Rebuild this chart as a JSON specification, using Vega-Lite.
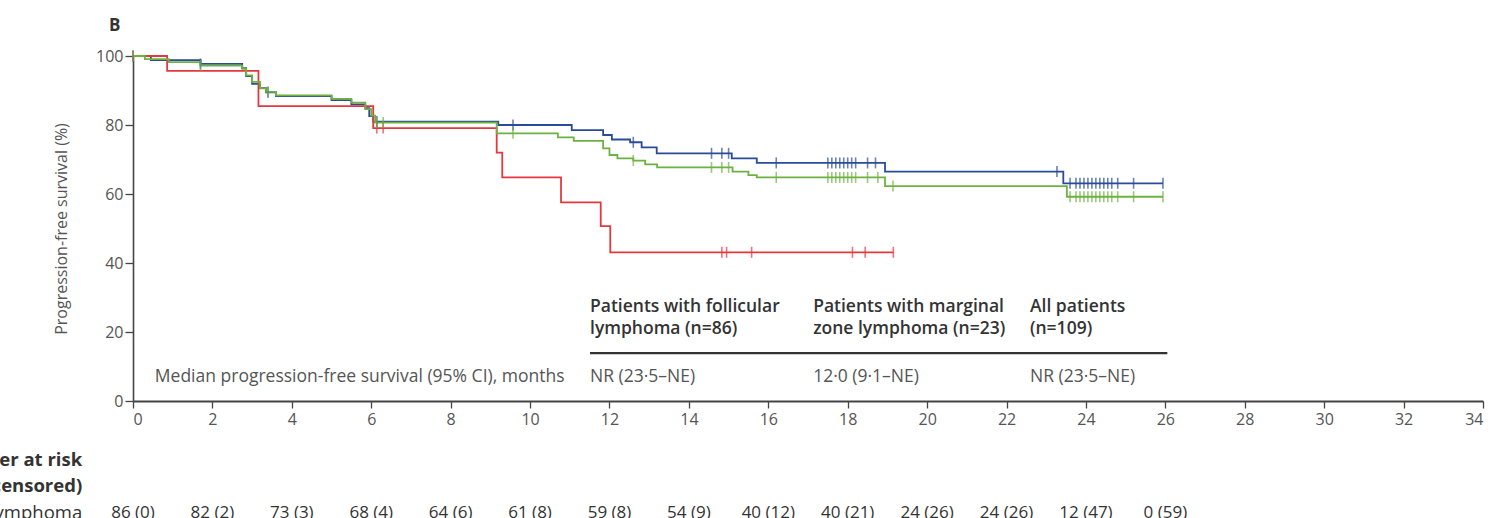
{
  "$schema": "https://vega.github.io/schema/vega-lite/v6.json",
  "width": 1350,
  "height": 345,
  "autosize": {"type": "none"},
  "padding": {"left": 133, "top": 56, "right": 18, "bottom": 117},
  "background": "white",
  "config": {
    "font": "Open Sans",
    "view": {"stroke": null},
    "axis": {"grid": false, "labelFont": "Open Sans", "titleFont": "Open Sans", "labelColor": "#555", "titleColor": "#555", "tickColor": "#444", "domainColor": "#444", "labelFontSize": 16, "titleFontSize": 16, "titleFontWeight": "normal"},
    "axisX": {"domainWidth": 2.2, "tickSize": 7, "tickWidth": 1.3, "labelPadding": 3},
    "axisY": {"domainWidth": 1.6, "tickSize": 8, "tickWidth": 1.3, "labelPadding": 2, "titlePadding": 26}
  },
  "title": {"text": "B", "anchor": "start", "frame": "group", "font": "Open Sans", "fontSize": 17, "fontWeight": "bold", "color": "#333", "dx": -24, "offset": 13},
  "datasets": {
    "km": [
      {"g": "Follicular", "t": 0, "s": 100}, {"g": "Follicular", "t": 0.45, "s": 98.8}, {"g": "Follicular", "t": 1.7, "s": 97.7}, {"g": "Follicular", "t": 2.75, "s": 96.5}, {"g": "Follicular", "t": 2.85, "s": 94.2}, {"g": "Follicular", "t": 3.0, "s": 91.9}, {"g": "Follicular", "t": 3.2, "s": 90.7}, {"g": "Follicular", "t": 3.35, "s": 89.5}, {"g": "Follicular", "t": 3.6, "s": 88.4}, {"g": "Follicular", "t": 5.0, "s": 87.2}, {"g": "Follicular", "t": 5.5, "s": 86.0}, {"g": "Follicular", "t": 5.85, "s": 84.9}, {"g": "Follicular", "t": 5.95, "s": 82.6}, {"g": "Follicular", "t": 6.05, "s": 81.0}, {"g": "Follicular", "t": 9.2, "s": 80.0}, {"g": "Follicular", "t": 11.05, "s": 78.5}, {"g": "Follicular", "t": 11.84, "s": 77.1}, {"g": "Follicular", "t": 12.06, "s": 75.8}, {"g": "Follicular", "t": 12.52, "s": 75.0}, {"g": "Follicular", "t": 12.81, "s": 73.5}, {"g": "Follicular", "t": 13.19, "s": 71.8}, {"g": "Follicular", "t": 15.08, "s": 70.3}, {"g": "Follicular", "t": 15.71, "s": 69.0}, {"g": "Follicular", "t": 18.94, "s": 66.5}, {"g": "Follicular", "t": 23.43, "s": 63.1}, {"g": "Follicular", "t": 25.94, "s": 63.1},
      {"g": "Marginal", "t": 0, "s": 100}, {"g": "Marginal", "t": 0.86, "s": 95.7}, {"g": "Marginal", "t": 3.16, "s": 85.5}, {"g": "Marginal", "t": 6.05, "s": 79.1}, {"g": "Marginal", "t": 9.16, "s": 72.0}, {"g": "Marginal", "t": 9.3, "s": 64.8}, {"g": "Marginal", "t": 10.78, "s": 57.6}, {"g": "Marginal", "t": 11.78, "s": 50.7}, {"g": "Marginal", "t": 12.02, "s": 43.1}, {"g": "Marginal", "t": 19.15, "s": 43.1},
      {"g": "All", "t": 0, "s": 100}, {"g": "All", "t": 0.3, "s": 99.1}, {"g": "All", "t": 0.9, "s": 98.2}, {"g": "All", "t": 1.7, "s": 97.2}, {"g": "All", "t": 2.75, "s": 96.3}, {"g": "All", "t": 2.85, "s": 94.4}, {"g": "All", "t": 3.0, "s": 92.5}, {"g": "All", "t": 3.2, "s": 90.6}, {"g": "All", "t": 3.35, "s": 89.6}, {"g": "All", "t": 3.6, "s": 88.6}, {"g": "All", "t": 5.0, "s": 87.6}, {"g": "All", "t": 5.5, "s": 86.5}, {"g": "All", "t": 5.85, "s": 84.6}, {"g": "All", "t": 6.0, "s": 82.7}, {"g": "All", "t": 6.1, "s": 80.7}, {"g": "All", "t": 9.16, "s": 77.6}, {"g": "All", "t": 10.7, "s": 76.4}, {"g": "All", "t": 11.1, "s": 75.4}, {"g": "All", "t": 11.84, "s": 73.2}, {"g": "All", "t": 12.0, "s": 71.3}, {"g": "All", "t": 12.2, "s": 70.3}, {"g": "All", "t": 12.6, "s": 69.7}, {"g": "All", "t": 12.9, "s": 68.6}, {"g": "All", "t": 13.2, "s": 67.7}, {"g": "All", "t": 15.1, "s": 66.5}, {"g": "All", "t": 15.5, "s": 65.5}, {"g": "All", "t": 15.71, "s": 64.8}, {"g": "All", "t": 18.94, "s": 62.3}, {"g": "All", "t": 23.52, "s": 59.2}, {"g": "All", "t": 25.94, "s": 59.2}
    ],
    "cens": [
      {"g": "Follicular", "t": 0, "s": 100}, {"g": "Follicular", "t": 1.7, "s": 97.7}, {"g": "Follicular", "t": 3.4, "s": 89.5}, {"g": "Follicular", "t": 6.14, "s": 81.0}, {"g": "Follicular", "t": 9.57, "s": 80.0}, {"g": "Follicular", "t": 12.6, "s": 75.0}, {"g": "Follicular", "t": 14.57, "s": 71.8}, {"g": "Follicular", "t": 14.83, "s": 71.8}, {"g": "Follicular", "t": 15.0, "s": 71.8}, {"g": "Follicular", "t": 16.2, "s": 69.0}, {"g": "Follicular", "t": 17.5, "s": 69.0}, {"g": "Follicular", "t": 17.6, "s": 69.0}, {"g": "Follicular", "t": 17.7, "s": 69.0}, {"g": "Follicular", "t": 17.8, "s": 69.0}, {"g": "Follicular", "t": 17.9, "s": 69.0}, {"g": "Follicular", "t": 18.0, "s": 69.0}, {"g": "Follicular", "t": 18.1, "s": 69.0}, {"g": "Follicular", "t": 18.2, "s": 69.0}, {"g": "Follicular", "t": 18.5, "s": 69.0}, {"g": "Follicular", "t": 18.7, "s": 69.0}, {"g": "Follicular", "t": 23.27, "s": 66.5}, {"g": "Follicular", "t": 23.6, "s": 63.1}, {"g": "Follicular", "t": 23.75, "s": 63.1}, {"g": "Follicular", "t": 23.85, "s": 63.1}, {"g": "Follicular", "t": 23.95, "s": 63.1}, {"g": "Follicular", "t": 24.05, "s": 63.1}, {"g": "Follicular", "t": 24.15, "s": 63.1}, {"g": "Follicular", "t": 24.25, "s": 63.1}, {"g": "Follicular", "t": 24.35, "s": 63.1}, {"g": "Follicular", "t": 24.45, "s": 63.1}, {"g": "Follicular", "t": 24.55, "s": 63.1}, {"g": "Follicular", "t": 24.65, "s": 63.1}, {"g": "Follicular", "t": 24.8, "s": 63.1}, {"g": "Follicular", "t": 25.2, "s": 63.1}, {"g": "Follicular", "t": 25.94, "s": 63.1},
      {"g": "Marginal", "t": 0, "s": 100}, {"g": "Marginal", "t": 6.14, "s": 79.1}, {"g": "Marginal", "t": 6.3, "s": 79.1}, {"g": "Marginal", "t": 14.83, "s": 43.1}, {"g": "Marginal", "t": 14.95, "s": 43.1}, {"g": "Marginal", "t": 15.58, "s": 43.1}, {"g": "Marginal", "t": 18.12, "s": 43.1}, {"g": "Marginal", "t": 18.44, "s": 43.1}, {"g": "Marginal", "t": 19.15, "s": 43.1},
      {"g": "All", "t": 0, "s": 100}, {"g": "All", "t": 1.7, "s": 97.2}, {"g": "All", "t": 3.4, "s": 89.6}, {"g": "All", "t": 6.14, "s": 80.7}, {"g": "All", "t": 6.3, "s": 80.7}, {"g": "All", "t": 9.57, "s": 77.6}, {"g": "All", "t": 12.6, "s": 69.7}, {"g": "All", "t": 14.57, "s": 67.7}, {"g": "All", "t": 14.83, "s": 67.7}, {"g": "All", "t": 15.0, "s": 67.7}, {"g": "All", "t": 16.2, "s": 64.8}, {"g": "All", "t": 17.5, "s": 64.8}, {"g": "All", "t": 17.6, "s": 64.8}, {"g": "All", "t": 17.7, "s": 64.8}, {"g": "All", "t": 17.8, "s": 64.8}, {"g": "All", "t": 17.9, "s": 64.8}, {"g": "All", "t": 18.0, "s": 64.8}, {"g": "All", "t": 18.1, "s": 64.8}, {"g": "All", "t": 18.2, "s": 64.8}, {"g": "All", "t": 18.5, "s": 64.8}, {"g": "All", "t": 18.76, "s": 64.8}, {"g": "All", "t": 19.14, "s": 62.3}, {"g": "All", "t": 23.6, "s": 59.2}, {"g": "All", "t": 23.75, "s": 59.2}, {"g": "All", "t": 23.85, "s": 59.2}, {"g": "All", "t": 23.95, "s": 59.2}, {"g": "All", "t": 24.05, "s": 59.2}, {"g": "All", "t": 24.15, "s": 59.2}, {"g": "All", "t": 24.25, "s": 59.2}, {"g": "All", "t": 24.35, "s": 59.2}, {"g": "All", "t": 24.45, "s": 59.2}, {"g": "All", "t": 24.55, "s": 59.2}, {"g": "All", "t": 24.65, "s": 59.2}, {"g": "All", "t": 24.8, "s": 59.2}, {"g": "All", "t": 25.2, "s": 59.2}, {"g": "All", "t": 25.94, "s": 59.2}
    ],
    "table": [
      {"kind": "head", "t": 11.51, "s": 27.2, "text": "Patients with follicular"},
      {"kind": "head", "t": 11.51, "s": 20.9, "text": "lymphoma (n=86)"},
      {"kind": "head", "t": 17.13, "s": 27.2, "text": "Patients with marginal"},
      {"kind": "head", "t": 17.13, "s": 20.9, "text": "zone lymphoma (n=23)"},
      {"kind": "head", "t": 22.59, "s": 27.2, "text": "All patients"},
      {"kind": "head", "t": 22.59, "s": 20.9, "text": "(n=109)"},
      {"kind": "value", "t": 0.55, "s": 7.0, "text": "Median progression-free survival (95% CI), months"},
      {"kind": "value", "t": 11.51, "s": 7.0, "text": "NR (23·5–NE)"},
      {"kind": "value", "t": 17.13, "s": 7.0, "text": "12·0 (9·1–NE)"},
      {"kind": "value", "t": 22.59, "s": 7.0, "text": "NR (23·5–NE)"}
    ],
    "tableRule": [{"t": 11.51, "t2": 26.05, "s": 13.9}],
    "riskLabels": [
      {"kind": "bold", "t": -1.28, "s": -17.1, "text": "Number at risk"},
      {"kind": "bold", "t": -1.28, "s": -24.6, "text": "(number censored)"},
      {"kind": "plain", "t": -1.28, "s": -32.5, "text": "Follicular lymphoma"}
    ],
    "risk": [
      {"t": 0, "s": -32.5, "text": "86 (0)"}, {"t": 2, "s": -32.5, "text": "82 (2)"}, {"t": 4, "s": -32.5, "text": "73 (3)"}, {"t": 6, "s": -32.5, "text": "68 (4)"}, {"t": 8, "s": -32.5, "text": "64 (6)"}, {"t": 10, "s": -32.5, "text": "61 (8)"}, {"t": 12, "s": -32.5, "text": "59 (8)"}, {"t": 14, "s": -32.5, "text": "54 (9)"}, {"t": 16, "s": -32.5, "text": "40 (12)"}, {"t": 18, "s": -32.5, "text": "40 (21)"}, {"t": 20, "s": -32.5, "text": "24 (26)"}, {"t": 22, "s": -32.5, "text": "24 (26)"}, {"t": 24, "s": -32.5, "text": "12 (47)"}, {"t": 26, "s": -32.5, "text": "0 (59)"}
    ]
  },
  "encoding": {
    "x": {"field": "t", "type": "quantitative", "scale": {"domain": [0, 34], "nice": false, "zero": false}, "axis": {"title": null, "values": [0, 2, 4, 6, 8, 10, 12, 14, 16, 18, 20, 22, 24, 26, 28, 30, 32, 34]}},
    "y": {"field": "s", "type": "quantitative", "scale": {"domain": [0, 100], "nice": false}, "axis": {"title": "Progression-free survival (%)", "values": [0, 20, 40, 60, 80, 100]}}
  },
  "layer": [
    {
      "data": {"name": "km"},
      "mark": {"type": "line", "interpolate": "step-after", "strokeWidth": 1.8},
      "encoding": {"color": {"field": "g", "type": "nominal", "scale": {"domain": ["Follicular", "Marginal", "All"], "range": ["#2a4b98", "#e5383e", "#6db240"]}, "legend": null}}
    },
    {
      "data": {"name": "cens"},
      "mark": {"type": "tick", "orient": "vertical", "size": 11, "thickness": 1.6},
      "encoding": {"color": {"field": "g", "type": "nominal", "scale": {"domain": ["Follicular", "Marginal", "All"], "range": ["#2a4b98", "#e5383e", "#6db240"]}, "legend": null}}
    },
    {
      "data": {"name": "table"},
      "transform": [{"filter": "datum.kind === 'head'"}],
      "mark": {"type": "text", "align": "left", "baseline": "middle", "fontSize": 17.5, "fontWeight": 600, "color": "#333"},
      "encoding": {"text": {"field": "text"}}
    },
    {
      "data": {"name": "table"},
      "transform": [{"filter": "datum.kind === 'value'"}],
      "mark": {"type": "text", "align": "left", "baseline": "middle", "fontSize": 17.5, "color": "#555"},
      "encoding": {"text": {"field": "text"}}
    },
    {
      "data": {"name": "tableRule"},
      "mark": {"type": "rule", "strokeWidth": 2.2, "color": "#333"},
      "encoding": {"x2": {"field": "t2"}}
    },
    {
      "data": {"name": "riskLabels"},
      "transform": [{"filter": "datum.kind === 'bold'"}],
      "mark": {"type": "text", "align": "right", "baseline": "middle", "fontSize": 18.5, "fontWeight": "bold", "color": "#333"},
      "encoding": {"text": {"field": "text"}}
    },
    {
      "data": {"name": "riskLabels"},
      "transform": [{"filter": "datum.kind === 'plain'"}],
      "mark": {"type": "text", "align": "right", "baseline": "middle", "fontSize": 18.5, "color": "#333"},
      "encoding": {"text": {"field": "text"}}
    },
    {
      "data": {"name": "risk"},
      "mark": {"type": "text", "align": "center", "baseline": "middle", "fontSize": 17, "color": "#333"},
      "encoding": {"text": {"field": "text"}}
    }
  ]
}
